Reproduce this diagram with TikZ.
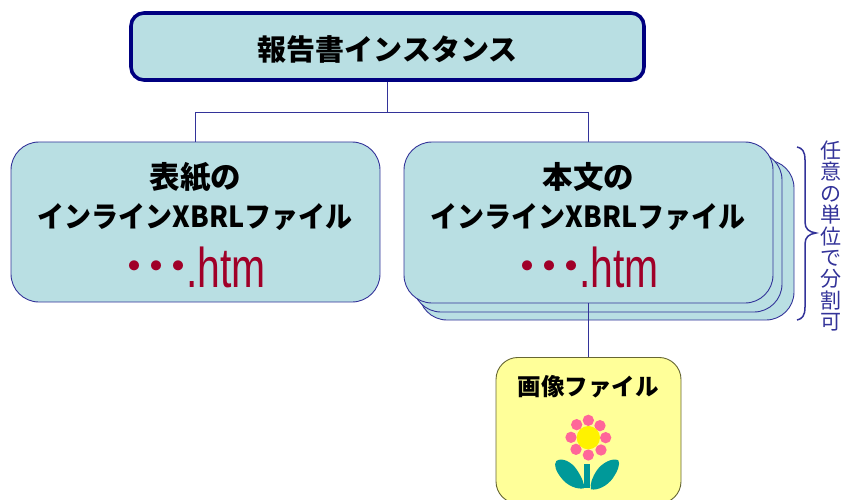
\documentclass[tikz,border=0pt]{standalone}
\usepackage{fontspec}
\usepackage{graphicx}
\setmainfont{Noto Sans CJK JP}[BoldFont={Noto Sans CJK JP Black}]
\newfontfamily\lat{Liberation Sans}
\definecolor{boxfill}{HTML}{B9DFE3}
\definecolor{edgeblue}{HTML}{333399}
\definecolor{navy}{HTML}{000080}
\definecolor{wine}{HTML}{A00028}
\definecolor{paleyellow}{HTML}{FFFF99}
\definecolor{olive}{HTML}{666633}
\definecolor{pink}{HTML}{FF6699}
\definecolor{teal}{HTML}{009999}
\tikzset{
  x=1pt,y=-1pt,
  filebox/.style={draw=edgeblue,fill=boxfill,line width=0.9pt,rounded corners=28pt,inner sep=0pt},
  topbox/.style={draw=navy,fill=boxfill,line width=3.6pt,rounded corners=13pt,inner sep=0pt,minimum width=513pt,minimum height=67pt},
  imgbox/.style={draw=olive,fill=paleyellow,line width=0.9pt,rounded corners=22pt,inner sep=0pt,minimum width=185pt,minimum height=146pt},
  conn/.style={draw=edgeblue,line width=0.8pt},
  lbl/.style={font=\fontsize{29}{29}\selectfont\bfseries,inner sep=0pt,text=black},
  titlelbl/.style={font=\fontsize{30.5}{30.5}\selectfont\bfseries,inner sep=0pt,text=black},
  htm/.style={inner sep=0pt,text=wine,anchor=base west},
  petal/.style={fill=pink,draw=none},
}
\newcommand{\htmtext}{\scalebox{0.73}[1.0]{\fontsize{56}{56}\selectfont\lat .htm}}
\newcommand{\onedot}{\makebox[22pt][c]{・}}
\newcommand{\dotstext}{\raisebox{8pt}{\fontsize{36}{36}\selectfont\bfseries \onedot\onedot\onedot}}
\newcommand{\filename}{\dotstext\kern-3pt\htmtext}
\newcommand{\xbrlline}{\scalebox{0.93}[1.0]{インラインXBRLファイル}}
\begin{document}
\begin{tikzpicture}
\useasboundingbox (0,0) rectangle (843,500);
\clip (0,0) rectangle (843,500);
% connectors first
\node[topbox] (top) at (387.5,46.5) {};
\coordinate (junction) at (387.5,112);
\coordinate (jl) at (195.5,112);
\coordinate (jr) at (588.5,112);
\draw[conn] (top.south) -- (junction);
\draw[conn] (jl) -- (jr);
\node[lbl] (toplabel) at (387.5,49) {報告書インスタンス};
% left file
\node[filebox,minimum width=369pt,minimum height=160pt] (cover) at (195.5,222) {};
\draw[conn] (jl) -- (cover.north-|jl);
\node[titlelbl] (cover1) at (195.5,177) {表紙の};
\node[lbl] (cover2) at (195,217) {\xbrlline};
\node[htm] (coverhtm) at (123,287) {\filename};
% stacked files
\draw[conn] (jr) -- (588.5,142);
\node[filebox,minimum width=375pt,minimum height=160pt] (back) at (606.5,240) {};
\node[filebox,minimum width=369pt,minimum height=160pt] (mid) at (597.5,232) {};
\node[filebox,minimum width=369pt,minimum height=161pt] (body) at (588.5,222.5) {};
\node[titlelbl] (body1) at (588.5,177) {本文の};
\node[lbl] (body2) at (588,217) {\xbrlline};
\node[htm] (bodyhtm) at (516,287) {\filename};
% image file
\node[imgbox,anchor=north] (img) at (588.5,357) {};
\draw[conn] (body.south) -- (img.north);
\node[lbl,font=\fontsize{23.5}{23.5}\selectfont\bfseries] (imglabel) at (588,387) {画像ファイル};
% flower
\begin{scope}[shift={(490,350)},x=0.3333pt,y=-0.3333pt]
  \fill[teal] (282,342) rectangle (301,415);
  \fill[teal] (282,415) .. controls (262,419) and (232,408) .. (214,384) .. controls (198,364) and (190,344) .. (199,333) .. controls (215,321) and (245,335) .. (261,360) .. controls (274,380) and (284,400) .. (282,415) -- cycle;
  \fill[teal] (303,418) .. controls (323,422) and (352,408) .. (369,384) .. controls (382,365) and (392,342) .. (385,331) .. controls (368,322) and (335,339) .. (320,362) .. controls (307,382) and (299,402) .. (303,418) -- cycle;
  \foreach \px/\py in {295/211,330/227,347/263,333/300,295/315,258/298,243/262,260/224}
    \fill[petal] (\px,\py) circle (17);
  \fill[yellow] (295,263) circle (35);
\end{scope}
% brace
\coordinate (bracetop) at (797,147);
\coordinate (bracetip) at (816,233);
\coordinate (bracebot) at (797,320);
\draw[edgeblue,line width=1.5pt] (bracetop) .. controls (802,148) and (805,151) .. (805,160) -- (805,222) .. controls (805,229) and (809,232) .. (bracetip) .. controls (809,234) and (805,237) .. (805,244) -- (805,307) .. controls (805,316) and (802,319) .. (bracebot);
\node[inner sep=0pt,text=edgeblue,align=center,font=\fontsize{21}{21.4}\selectfont] (split) at (830.5,236) {任\\意\\の\\単\\位\\で\\分\\割\\可};
\end{tikzpicture}
\end{document}
